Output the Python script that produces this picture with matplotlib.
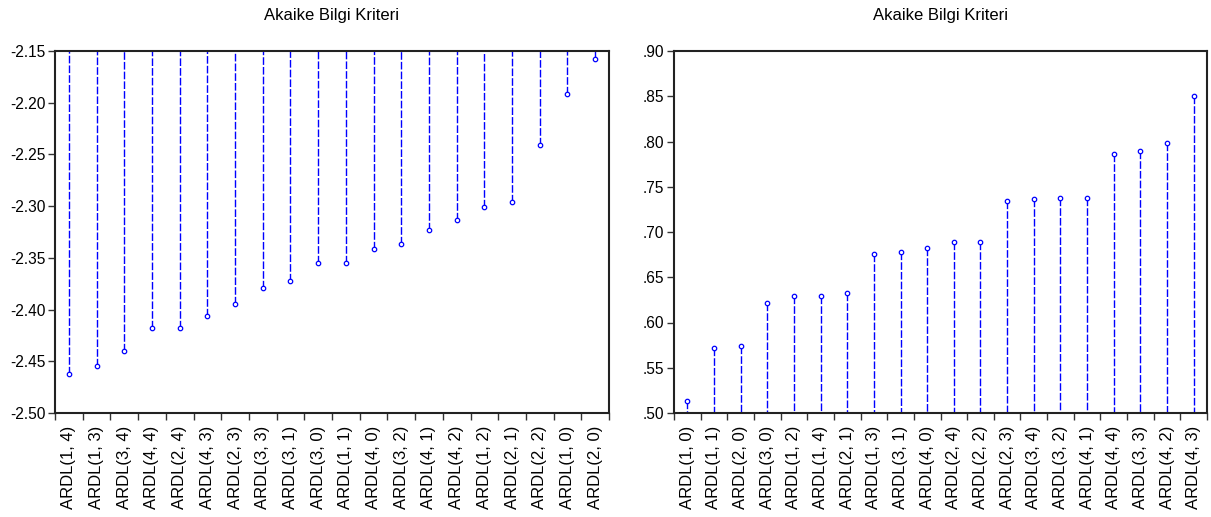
import matplotlib
matplotlib.use("Agg")
import matplotlib.pyplot as plt
import numpy as np

plt.rcParams['font.family'] = ['Liberation Sans', 'DejaVu Sans']

title = "Akaike Bilgi Kriteri"

left_labels = ["ARDL(1, 4)", "ARDL(1, 3)", "ARDL(3, 4)", "ARDL(4, 4)", "ARDL(2, 4)",
               "ARDL(4, 3)", "ARDL(2, 3)", "ARDL(3, 3)", "ARDL(3, 1)", "ARDL(3, 0)",
               "ARDL(1, 1)", "ARDL(4, 0)", "ARDL(3, 2)", "ARDL(4, 1)", "ARDL(4, 2)",
               "ARDL(1, 2)", "ARDL(2, 1)", "ARDL(2, 2)", "ARDL(1, 0)", "ARDL(2, 0)"]
left_values = [-2.462, -2.455, -2.440, -2.418, -2.418,
               -2.406, -2.395, -2.379, -2.372, -2.355,
               -2.355, -2.341, -2.337, -2.323, -2.313,
               -2.301, -2.296, -2.241, -2.192, -2.158]
left_yticks = [-2.50, -2.45, -2.40, -2.35, -2.30, -2.25, -2.20, -2.15]
left_yticklabels = ["-2.50", "-2.45", "-2.40", "-2.35", "-2.30", "-2.25", "-2.20", "-2.15"]

right_labels = ["ARDL(1, 0)", "ARDL(1, 1)", "ARDL(2, 0)", "ARDL(3, 0)", "ARDL(1, 2)",
                "ARDL(1, 4)", "ARDL(2, 1)", "ARDL(1, 3)", "ARDL(3, 1)", "ARDL(4, 0)",
                "ARDL(2, 4)", "ARDL(2, 2)", "ARDL(2, 3)", "ARDL(3, 4)", "ARDL(3, 2)",
                "ARDL(4, 1)", "ARDL(4, 4)", "ARDL(3, 3)", "ARDL(4, 2)", "ARDL(4, 3)"]
right_values = [0.513, 0.572, 0.574, 0.622, 0.629,
                0.629, 0.633, 0.676, 0.678, 0.682,
                0.689, 0.689, 0.734, 0.736, 0.738,
                0.738, 0.786, 0.789, 0.798, 0.850]
right_yticks = [0.50, 0.55, 0.60, 0.65, 0.70, 0.75, 0.80, 0.85, 0.90]
right_yticklabels = [".50", ".55", ".60", ".65", ".70", ".75", ".80", ".85", ".90"]

W, H = 1211, 517
fig = plt.figure(figsize=(W / 100, H / 100), dpi=100)

def make_axes(rect, labels, values, yticks, yticklabels, ylim, from_top):
    ax = fig.add_axes(rect)
    n = len(labels)
    x = np.arange(n)
    ax.set_xlim(-0.5, n - 0.5)
    ax.set_ylim(*ylim)
    base = ylim[1] if from_top else ylim[0]
    ax.vlines(x, values, base, colors='#0000FF', linewidth=1.0,
              linestyles=(0, (5.5, 1.5)))
    ax.plot(x, values, linestyle='none', marker='o', markersize=3.2,
            markerfacecolor='white', markeredgecolor='#0000FF', markeredgewidth=0.9,
            clip_on=False)
    ax.set_yticks(yticks)
    ax.set_yticklabels(yticklabels)
    ax.set_xticks(x)
    ax.set_xticklabels(labels, rotation=90, va='top', ha='center')
    ax.set_xticks(np.arange(-0.5, n, 1.0), minor=True)
    ax.tick_params(axis='x', which='major', length=0, pad=9, labelsize=12)
    ax.tick_params(axis='x', which='minor', length=5, width=1.0, direction='out', color='#333333')
    ax.tick_params(axis='y', which='major', length=5, width=1.0, direction='out',
                   labelsize=11.2, pad=2, color='#333333')
    for s in ax.spines.values():
        s.set_linewidth(1.5)
        s.set_color('#222222')
    ax.set_title(title, fontsize=12, pad=22)
    return ax

make_axes([55 / W, 1 - 413 / H, (609 - 55) / W, (413 - 51) / H],
          left_labels, left_values, left_yticks, left_yticklabels,
          (-2.50, -2.15), True)
make_axes([674 / W, 1 - 413 / H, (1207 - 674) / W, (413 - 51) / H],
          right_labels, right_values, right_yticks, right_yticklabels,
          (0.50, 0.90), False)

fig.savefig("out.png", dpi=100)
